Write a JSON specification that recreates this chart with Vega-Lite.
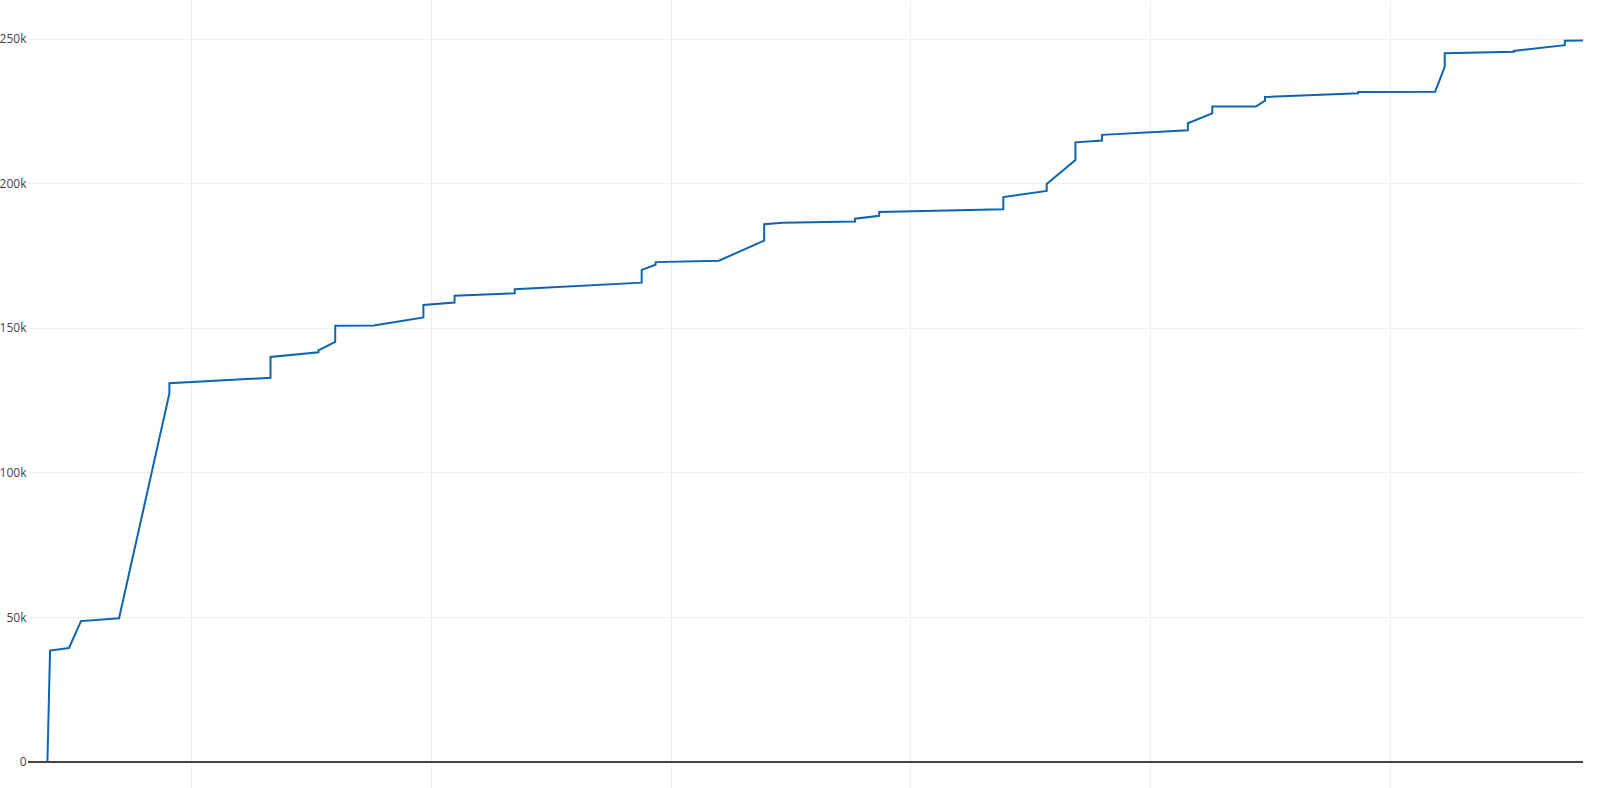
{
  "$schema": "https://vega.github.io/schema/vega-lite/v6.json",
  "autosize": {"type": "none"},
  "width": 1555,
  "height": 788,
  "padding": {"left": 28, "top": 0, "right": 17, "bottom": 0},
  "background": "white",
  "config": {
    "view": {"stroke": null},
    "font": "Open Sans"
  },
  "data": {
    "values": [
      {"i": 1, "x": 39.9, "y": 0},
      {"i": 2, "x": 41.0, "y": 38400},
      {"i": 3, "x": 48.9, "y": 39300},
      {"i": 4, "x": 53.9, "y": 48600},
      {"i": 5, "x": 69.8, "y": 49600},
      {"i": 6, "x": 90.8, "y": 127300},
      {"i": 7, "x": 90.8, "y": 130800},
      {"i": 8, "x": 133.0, "y": 132700},
      {"i": 9, "x": 133.0, "y": 139900},
      {"i": 10, "x": 153.0, "y": 141500},
      {"i": 11, "x": 153.0, "y": 142200},
      {"i": 12, "x": 160.0, "y": 145100},
      {"i": 13, "x": 160.0, "y": 150700},
      {"i": 14, "x": 176.1, "y": 150800},
      {"i": 15, "x": 196.8, "y": 153600},
      {"i": 16, "x": 196.8, "y": 157900},
      {"i": 17, "x": 209.8, "y": 158700},
      {"i": 18, "x": 209.8, "y": 161100},
      {"i": 19, "x": 234.9, "y": 161900},
      {"i": 20, "x": 234.9, "y": 163300},
      {"i": 21, "x": 287.9, "y": 165600},
      {"i": 22, "x": 287.9, "y": 170000},
      {"i": 23, "x": 293.7, "y": 171800},
      {"i": 24, "x": 293.7, "y": 172700},
      {"i": 25, "x": 320.1, "y": 173200},
      {"i": 26, "x": 339.0, "y": 180100},
      {"i": 27, "x": 339.0, "y": 185800},
      {"i": 28, "x": 346.8, "y": 186300},
      {"i": 29, "x": 376.9, "y": 186700},
      {"i": 30, "x": 376.9, "y": 187700},
      {"i": 31, "x": 387.0, "y": 188700},
      {"i": 32, "x": 387.0, "y": 190000},
      {"i": 33, "x": 438.8, "y": 191000},
      {"i": 34, "x": 438.8, "y": 195200},
      {"i": 35, "x": 456.9, "y": 197300},
      {"i": 36, "x": 456.9, "y": 199700},
      {"i": 37, "x": 468.9, "y": 208000},
      {"i": 38, "x": 468.9, "y": 214100},
      {"i": 39, "x": 480.0, "y": 214700},
      {"i": 40, "x": 480.0, "y": 216700},
      {"i": 41, "x": 515.8, "y": 218300},
      {"i": 42, "x": 515.8, "y": 220700},
      {"i": 43, "x": 526.0, "y": 224100},
      {"i": 44, "x": 526.0, "y": 226500},
      {"i": 45, "x": 544.2, "y": 226500},
      {"i": 46, "x": 548.0, "y": 228500},
      {"i": 47, "x": 548.0, "y": 229800},
      {"i": 48, "x": 586.9, "y": 231100},
      {"i": 49, "x": 586.9, "y": 231500},
      {"i": 50, "x": 619.0, "y": 231600},
      {"i": 51, "x": 623.0, "y": 240200},
      {"i": 52, "x": 623.0, "y": 244900},
      {"i": 53, "x": 651.8, "y": 245400},
      {"i": 54, "x": 651.8, "y": 245700},
      {"i": 55, "x": 673.1, "y": 247700},
      {"i": 56, "x": 673.1, "y": 249200},
      {"i": 57, "x": 680.7, "y": 249300}
    ]
  },
  "layer": [
    {
      "mark": {"type": "rule", "color": "#444444", "strokeWidth": 1},
      "encoding": {"y": {"datum": 0, "type": "quantitative"}}
    },
    {
      "mark": {"type": "line", "color": "#0f64b0", "strokeWidth": 2, "strokeJoin": "miter"},
      "encoding": {
        "x": {
          "field": "x",
          "type": "quantitative",
          "scale": {"domain": [31.8, 680.7], "nice": false, "zero": false},
          "axis": {
            "values": [100, 200, 300, 400, 500, 600],
            "labels": false,
            "ticks": false,
            "domain": false,
            "title": null,
            "grid": true,
            "gridColor": "#eeeeee",
            "gridWidth": 1
          }
        },
        "y": {
          "field": "y",
          "type": "quantitative",
          "scale": {"domain": [-9092, 263309], "nice": false, "zero": false},
          "axis": {
            "values": [0, 50000, 100000, 150000, 200000, 250000],
            "labelExpr": "datum.value == 0 ? '0' : format(datum.value, '~s')",
            "labelFont": "Open Sans",
            "labelFontSize": 12,
            "labelColor": "#444444",
            "labelPadding": 2,
            "ticks": false,
            "domain": false,
            "title": null,
            "grid": true,
            "gridColor": "#eeeeee",
            "gridWidth": 1
          }
        },
        "order": {"field": "i", "type": "quantitative"}
      }
    }
  ]
}
